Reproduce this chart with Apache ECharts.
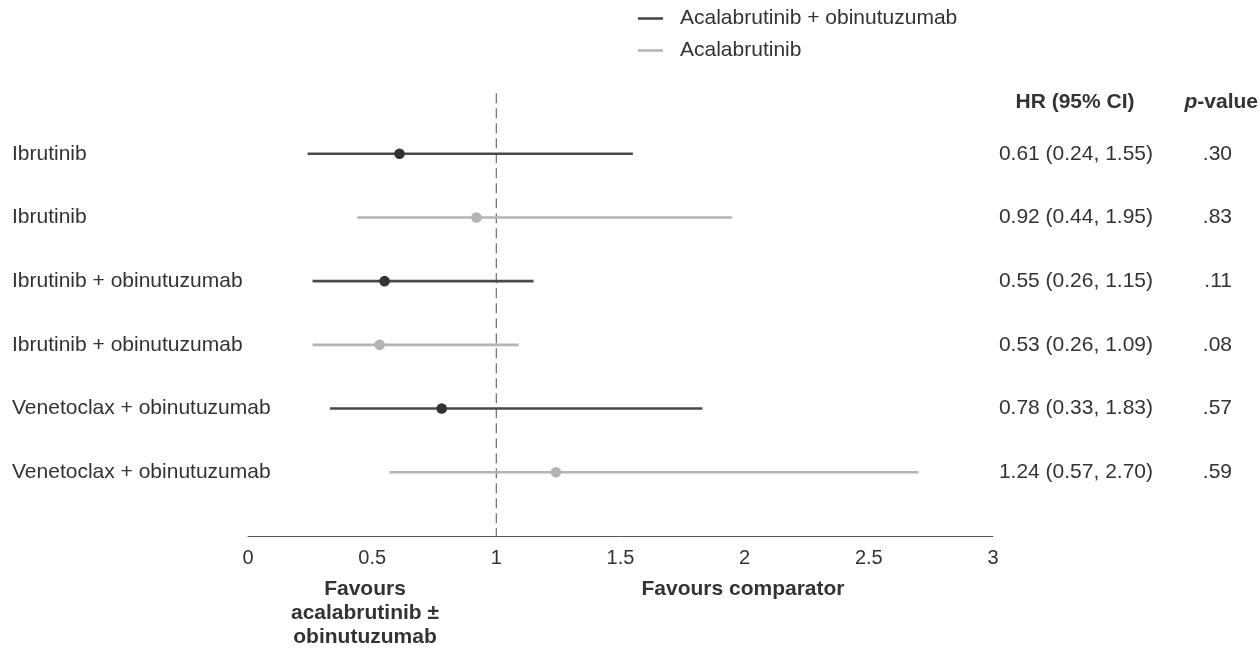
<!DOCTYPE html>
<html>
<head>
<meta charset="utf-8">
<script src="https://cdn.jsdelivr.net/npm/echarts@6/dist/echarts.min.js"></script>
<style>
  html, body { margin: 0; padding: 0; background: #fff; }
  #chart { width: 1260px; height: 650px; }
</style>
</head>
<body>
<div id="chart"></div>
<script>
// ---- data ----
const rowLabels = ['Ibrutinib', 'Ibrutinib', 'Ibrutinib + obinutuzumab', 'Ibrutinib + obinutuzumab', 'Venetoclax + obinutuzumab', 'Venetoclax + obinutuzumab'];
const seriesNames = ['Acalabrutinib + obinutuzumab', 'Acalabrutinib'];
const rowSeries = [0, 1, 0, 1, 0, 1];
const hrValues = [0.61, 0.92, 0.55, 0.53, 0.78, 1.24];
const ciLower = [0.24, 0.44, 0.26, 0.26, 0.33, 0.57];
const ciUpper = [1.55, 1.95, 1.15, 1.09, 1.83, 2.70];
const hrText = ['0.61 (0.24, 1.55)', '0.92 (0.44, 1.95)', '0.55 (0.26, 1.15)', '0.53 (0.26, 1.09)', '0.78 (0.33, 1.83)', '1.24 (0.57, 2.70)'];
const pText = ['.30', '.83', '.11', '.08', '.57', '.59'];
const xTicks = [0, 0.5, 1, 1.5, 2, 2.5, 3];
const refValue = 1;

const lineColors = ['#4a4a4a', '#b4b4b4'];
const dotColors = ['#333333', '#b4b4b4'];
const FONT = '"Liberation Sans", Arial, sans-serif';

const chart = echarts.init(document.getElementById('chart'));

function buildData(s) {
  const out = [];
  for (let i = 0; i < rowLabels.length; i++) {
    if (rowSeries[i] === s) out.push([hrValues[i], ciLower[i], ciUpper[i], i + 1]);
  }
  return out;
}

function renderItem(s) {
  return function (params, api) {
    const row = api.value(3);
    const pLo = api.coord([api.value(1), row]);
    const pHi = api.coord([api.value(2), row]);
    const pHr = api.coord([api.value(0), row]);
    return {
      type: 'group',
      children: [
        { type: 'line', shape: { x1: pLo[0], y1: pLo[1], x2: pHi[0], y2: pHi[1] },
          style: { stroke: lineColors[s], lineWidth: 2.6 } },
        { type: 'circle', shape: { cx: pHr[0], cy: pHr[1], r: 5.3 },
          style: { fill: dotColors[s] } }
      ]
    };
  };
}

const rowAxisBase = {
  type: 'value', inverse: true, min: 0, max: 7, interval: 1,
  axisLine: { show: false }, axisTick: { show: false }, splitLine: { show: false }
};

const option = {
  backgroundColor: '#ffffff',
  animation: false,
  textStyle: { fontFamily: FONT },
  grid: { left: 248, right: 267, top: 90, bottom: 114 },
  legend: {
    data: seriesNames.map((n, i) => ({ name: n, itemStyle: { color: lineColors[i] } })),
    orient: 'vertical',
    left: 633, top: 3,
    icon: 'rect', itemWidth: 25, itemHeight: 2.6, itemGap: 11,
    textStyle: { fontSize: 21, color: '#333', fontFamily: FONT, lineHeight: 21, padding: [0, 0, 0, 12] }
  },
  xAxis: {
    type: 'value', min: 0, max: 3, interval: 0.5,
    axisLine: { show: true, onZero: false, lineStyle: { color: '#555', width: 1 } },
    axisTick: { show: false }, splitLine: { show: false },
    axisLabel: {
      margin: 12, fontSize: 20, color: '#333', fontFamily: FONT,
      formatter: v => (xTicks.indexOf(v) >= 0 ? String(v) : '')
    }
  },
  yAxis: [
    Object.assign({}, rowAxisBase, {
      position: 'left',
      axisLabel: { align: 'left', margin: 236, fontSize: 21, color: '#333', fontFamily: FONT,
        formatter: v => rowLabels[v - 1] || '' }
    }),
    Object.assign({}, rowAxisBase, {
      position: 'right',
      axisLabel: { align: 'right', margin: 160, fontSize: 21, color: '#333', fontFamily: FONT,
        formatter: v => hrText[v - 1] || '' }
    }),
    Object.assign({}, rowAxisBase, {
      position: 'right',
      axisLabel: { align: 'right', margin: 239, fontSize: 21, color: '#333', fontFamily: FONT,
        formatter: v => pText[v - 1] || '' }
    })
  ],
  graphic: [
    { type: 'text', x: 1075, y: 102, style: { text: 'HR (95% CI)', font: 'bold 21px ' + FONT, fill: '#333', textAlign: 'center', textVerticalAlign: 'middle' } },
    { type: 'text', x: 1258, y: 102, style: {
        text: '{i|p}{b|-value}', textAlign: 'right', textVerticalAlign: 'middle',
        rich: {
          i: { fontStyle: 'italic', fontWeight: 'bold', fontSize: 21, fontFamily: FONT, fill: '#333' },
          b: { fontWeight: 'bold', fontSize: 21, fontFamily: FONT, fill: '#333' }
        } } },
    { type: 'text', x: 365, y: 613, style: { text: 'Favours\nacalabrutinib \u00b1\nobinutuzumab', font: 'bold 21px ' + FONT, fill: '#333', textAlign: 'center', textVerticalAlign: 'middle', lineHeight: 24 } },
    { type: 'text', x: 743, y: 589, style: { text: 'Favours comparator', font: 'bold 21px ' + FONT, fill: '#333', textAlign: 'center', textVerticalAlign: 'middle' } }
  ],
  series: [
    {
      type: 'line', name: 'ref', data: [[refValue, 0.05], [refValue, 7]],
      symbol: 'none', silent: true, z: 1,
      lineStyle: { color: '#777', width: 1.3, type: [10, 5] }
    },
    {
      type: 'custom', name: seriesNames[0], data: buildData(0), renderItem: renderItem(0),
      encode: { x: [0, 1, 2], y: 3 }, itemStyle: { color: lineColors[0] }, z: 3
    },
    {
      type: 'custom', name: seriesNames[1], data: buildData(1), renderItem: renderItem(1),
      encode: { x: [0, 1, 2], y: 3 }, itemStyle: { color: lineColors[1] }, z: 2
    }
  ]
};
chart.setOption(option);
</script>
</body>
</html>
